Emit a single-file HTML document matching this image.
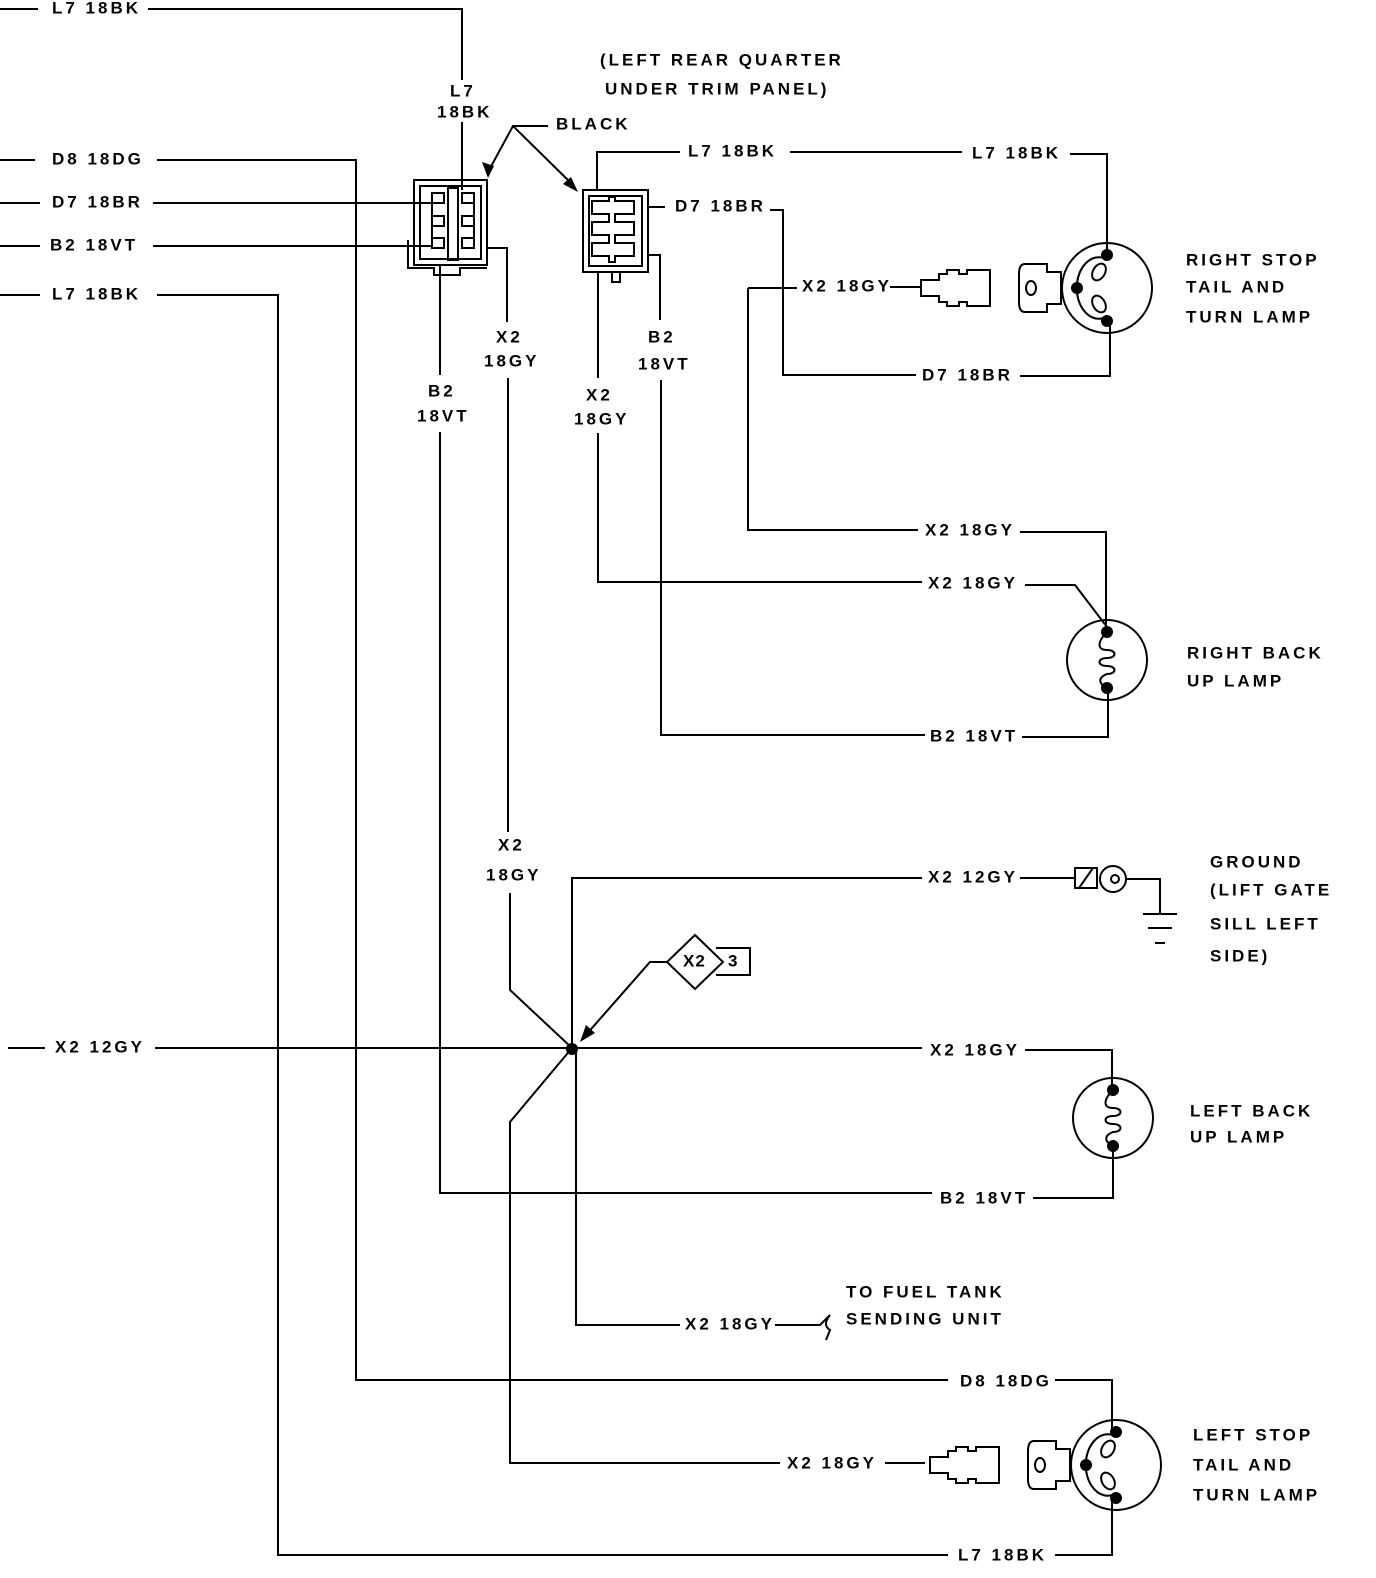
<!DOCTYPE html>
<html><head><meta charset="utf-8"><style>
html,body{margin:0;padding:0;background:#fff}
svg{display:block}
text{font-family:"Liberation Sans",sans-serif;font-weight:bold;font-size:17px;letter-spacing:3px;fill:#000;dominant-baseline:middle}
</style></head><body>
<svg width="1376" height="1578" viewBox="0 0 1376 1578" xmlns="http://www.w3.org/2000/svg">
<defs>
<g id="stoplamp" fill="none" stroke="#000" stroke-width="2">
<circle cx="0" cy="0" r="45"/>
<circle cx="0" cy="-33" r="5" fill="#000"/>
<circle cx="0" cy="33" r="5" fill="#000"/>
<circle cx="-30" cy="0" r="5" fill="#000"/>
<path d="M-3,-30 C-18,-34 -28,-20 -30,-5"/>
<ellipse cx="-8" cy="-16" rx="6" ry="9" transform="rotate(30 -8 -16)"/>
<path d="M-3,30 C-18,34 -28,20 -30,5"/>
<ellipse cx="-8" cy="16" rx="6" ry="9" transform="rotate(-30 -8 16)"/>
<path d="M-46,-16 H-60 V-24 H-82 Q-88,-24 -88,-14 V14 Q-88,24 -82,24 H-60 V16 H-46 Z"/>
<ellipse cx="-76" cy="0" rx="5" ry="7"/>
<path d="M-117,-18 H-140 V-14 H-148 V-18 H-160 V-14 H-168 V-8 H-186 V8 H-168 V14 H-160 V18 H-148 V14 H-140 V18 H-117 Z"/>
</g>
<g id="bulamp" fill="none" stroke="#000" stroke-width="2">
<circle cx="0" cy="0" r="40"/>
<circle cx="0" cy="-28" r="5" fill="#000"/>
<circle cx="0" cy="28" r="5" fill="#000"/>
<path d="M0,-28 C-10,-18 -10,-10 0,-10 C10,-10 10,-2 0,-2 C-10,-2 -10,6 0,6 C10,6 10,14 0,14 C-10,18 -8,24 0,28"/>
</g>
</defs>
<g fill="none" stroke="#000" stroke-width="2">
<path d="M0,9 H38 M148,9 H462 V80 M462,122 V190"/>
<path d="M0,160 H35 M157,160 H356 V1380 H948 M1055,1380 H1112 V1430"/>
<path d="M0,203 H40 M153,203 H432"/>
<path d="M0,246 H40 M153,246 H432"/>
<path d="M0,295 H40 M157,295 H278 V1555 H948 M1055,1555 H1112 V1500"/>
<path d="M8,1048 H45 M155,1048 H922 M1025,1050 H1112 V1090"/>
<rect x="414" y="180" width="73" height="85"/>
<rect x="420" y="186" width="61" height="73"/>
<path d="M408,240 V268 H434 V275 H460 V268 H487"/>
<rect x="448" y="188" width="10" height="72" />
<path d="M432,193 H444 V203 H432 V216 H444 V226 H432 V238 H444 V248 H432 Z"/>
<path d="M474,193 H462 V203 H474 V216 H462 V226 H474 V238 H462 V248 H474 Z"/>
<rect x="583" y="190" width="65" height="82"/>
<rect x="589" y="196" width="53" height="70"/>
<path d="M592,201 H609 V197 H615 V201 H634 V214 H615 V222 H634 V235 H615 V243 H634 V256 H615 V262 H609 V256 H592 V243 H609 V235 H592 V222 H609 V214 H592 Z"/>
<path d="M612,272 V282 H620 V272"/>
<path d="M440,265 V375 M440,432 V1193 H932 M1033,1198 H1113 V1146"/>
<path d="M487,248 H507 V322 M508,378 V832 M510,893 V990 L572,1048 M572,1048 L510,1122 V1463 H780 M885,1463 H925"/>
<path d="M572,1048 V878 H922 M1020,878 H1075"/>
<path d="M576,1048 V1325 H680 M775,1325 H820 L830,1315 Q822,1325 830,1330 L826,1340"/>
<path d="M597,190 V152 H680 M790,152 H962 M1070,154 H1107 V255"/>
<path d="M648,207 H665 M770,210 H783 V375 H916 M1020,376 H1110 V320"/>
<path d="M598,272 V378 M598,433 V582 H922 M1025,585 H1075 L1107,627"/>
<path d="M648,255 H660 V320 M661,380 V735 H925 M1022,737 H1108 V690"/>
<path d="M748,288 V530 H918 M1020,532 H1106 V632 M748,288 H797 M890,287 H920"/>
<path d="M548,126 H513 L488,172 M513,126 L572,184"/>
<path d="M1075,868 H1097 V888 H1075 Z M1079,888 L1093,868"/>
<circle cx="1113" cy="879" r="13"/>
<circle cx="1115" cy="879" r="4"/>
<path d="M1126,879 H1160 V913 M1143,914 H1177 M1148,928 H1172 M1155,943 H1165"/>
<path d="M695,935 L723,962 L695,989 L667,962 Z M716,948 H750 V975 H716"/>
<path d="M667,962 H650 L585,1036"/>
</g>
<polygon points="488,178 482,162 494,166" fill="#000"/>
<polygon points="578,192 563,184 571,177" fill="#000"/>
<polygon points="580,1042 586,1025 595,1033" fill="#000"/>
<circle cx="572" cy="1049" r="6" fill="#000"/>
<use href="#stoplamp" x="1107" y="288"/>
<use href="#stoplamp" x="1116" y="1465"/>
<use href="#bulamp" x="1107" y="660"/>
<use href="#bulamp" x="1113" y="1118"/>
<g>
<text x="52" y="9">L7 18BK</text>
<text x="52" y="160">D8 18DG</text>
<text x="52" y="203">D7 18BR</text>
<text x="50" y="246">B2 18VT</text>
<text x="52" y="295">L7 18BK</text>
<text x="55" y="1048">X2 12GY</text>
<text x="450" y="92">L7</text>
<text x="437" y="113">18BK</text>
<text x="600" y="61">(LEFT REAR QUARTER</text>
<text x="605" y="90">UNDER TRIM PANEL)</text>
<text x="556" y="125">BLACK</text>
<text x="688" y="152">L7 18BK</text>
<text x="972" y="154">L7 18BK</text>
<text x="675" y="207">D7 18BR</text>
<text x="802" y="287">X2 18GY</text>
<text x="922" y="376">D7 18BR</text>
<text x="1186" y="261">RIGHT STOP</text>
<text x="1186" y="288">TAIL AND</text>
<text x="1186" y="318">TURN LAMP</text>
<text x="496" y="338">X2</text>
<text x="484" y="362">18GY</text>
<text x="428" y="392">B2</text>
<text x="417" y="417">18VT</text>
<text x="586" y="396">X2</text>
<text x="574" y="420">18GY</text>
<text x="648" y="338">B2</text>
<text x="638" y="365">18VT</text>
<text x="925" y="531">X2 18GY</text>
<text x="928" y="584">X2 18GY</text>
<text x="1187" y="654">RIGHT BACK</text>
<text x="1187" y="682">UP LAMP</text>
<text x="930" y="737">B2 18VT</text>
<text x="498" y="846">X2</text>
<text x="486" y="876">18GY</text>
<text x="928" y="878">X2 12GY</text>
<text x="1210" y="863">GROUND</text>
<text x="1210" y="891">(LIFT GATE</text>
<text x="1210" y="925">SILL LEFT</text>
<text x="1210" y="957">SIDE)</text>
<text x="683" y="962" style="letter-spacing:1px">X2</text>
<text x="728" y="962">3</text>
<text x="930" y="1051">X2 18GY</text>
<text x="1190" y="1112">LEFT BACK</text>
<text x="1190" y="1138">UP LAMP</text>
<text x="940" y="1199">B2 18VT</text>
<text x="846" y="1293">TO FUEL TANK</text>
<text x="846" y="1320">SENDING UNIT</text>
<text x="685" y="1325">X2 18GY</text>
<text x="960" y="1382">D8 18DG</text>
<text x="787" y="1464">X2 18GY</text>
<text x="1193" y="1436">LEFT STOP</text>
<text x="1193" y="1466">TAIL AND</text>
<text x="1193" y="1496">TURN LAMP</text>
<text x="958" y="1556">L7 18BK</text>
</g>
</svg>
</body></html>
